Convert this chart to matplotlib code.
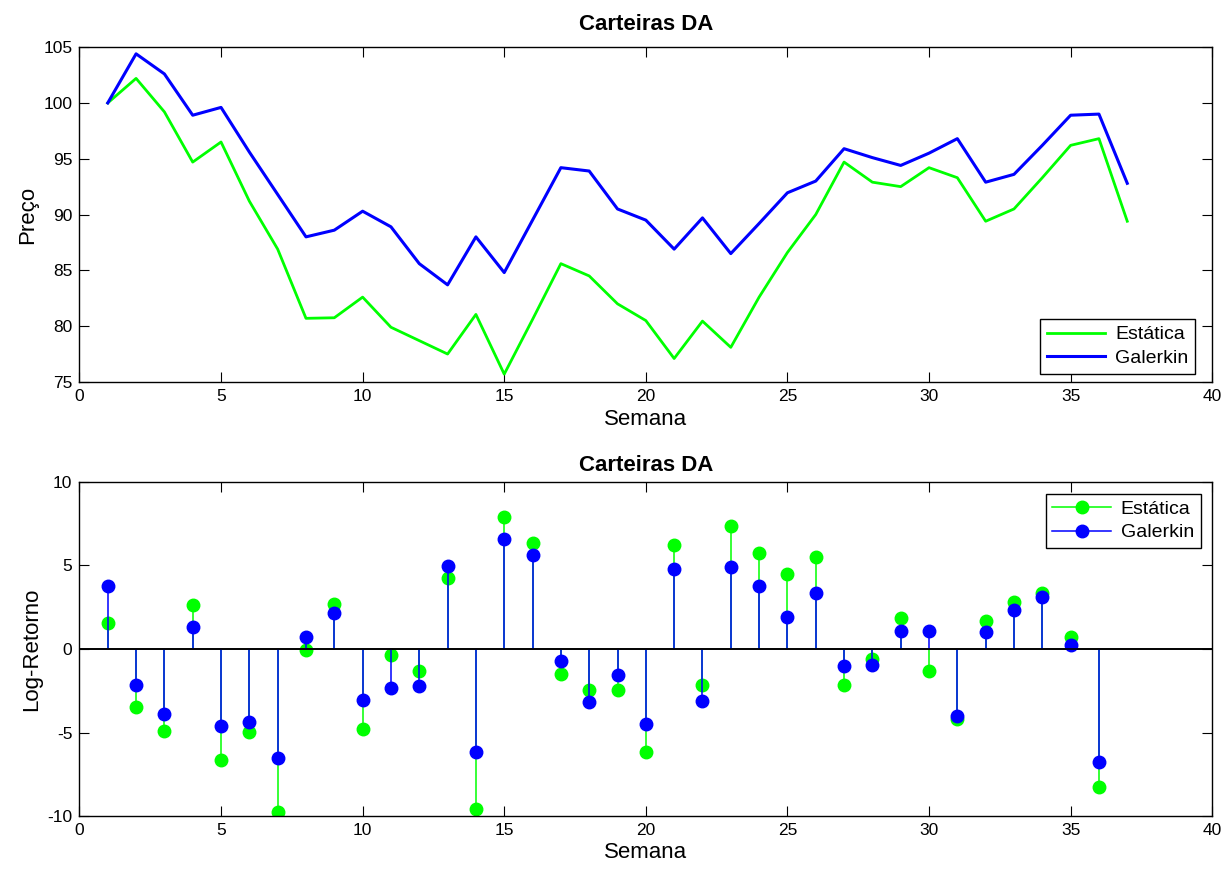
import matplotlib
matplotlib.use("Agg")
import matplotlib.pyplot as plt
from matplotlib.lines import Line2D
from matplotlib.legend_handler import HandlerLine2D
import numpy as np

plt.rcParams['font.family'] = ['Liberation Sans', 'DejaVu Sans']
plt.rcParams['axes.unicode_minus'] = False

semanas = np.arange(1, 38)
preco_estatica = [100, 102.2, 99.2, 94.7, 96.5, 91.2, 86.9, 80.7, 80.75, 82.6,
                  79.9, 78.7, 77.5, 81.05, 75.7, 80.6, 85.6, 84.5, 82.0, 80.5,
                  77.1, 80.45, 78.1, 82.6, 86.6, 90.0, 94.7, 92.9, 92.5, 94.2,
                  93.3, 89.4, 90.5, 93.3, 96.2, 96.8, 89.4]
preco_galerkin = [100, 104.4, 102.6, 98.9, 99.6, 95.6, 91.8, 88.0, 88.6, 90.3,
                  88.9, 85.6, 83.7, 88.0, 84.8, 89.5, 94.2, 93.9, 90.5, 89.5,
                  86.9, 89.7, 86.5, 89.2, 91.95, 93.0, 95.9, 95.1, 94.4, 95.5,
                  96.8, 92.9, 93.6, 96.2, 98.9, 99.0, 92.8]

semanas_ret = np.arange(1, 37)
ret_estatica = [1.55, -3.49, -4.88, 2.61, -6.61, -4.96, -9.76, -0.04, 2.71, -4.78,
                -0.34, -1.29, 4.24, -9.54, 7.89, 6.33, -1.49, -2.43, -2.43, -6.13,
                6.21, -2.16, 7.34, 5.77, 4.48, 5.52, -2.16, -0.6, 1.85, -1.29,
                -4.2, 1.65, 2.8, 3.33, 0.75, -8.27]
ret_galerkin = [3.80, -2.17, -3.88, 1.31, -4.58, -4.36, -6.51, 0.70, 2.15, -3.03,
                -2.33, -2.23, 4.94, -6.16, 6.57, 5.64, -0.70, -3.19, -1.57, -4.5,
                4.76, -3.12, 4.92, 3.79, 1.90, 3.37, -1.03, -0.97, 1.11, 1.11,
                -4.0, 1.01, 2.34, 3.13, 0.26, -6.73]

verde = (0, 1, 0)
azul = (0, 0, 1)


class MarcadorDireita(HandlerLine2D):
    # marker at the right end of the legend line, like MATLAB stem legends
    def get_xdata(self, legend, xdescent, ydescent, width, height, fontsize):
        xdata = np.array([-xdescent, -xdescent + width])
        return xdata, np.array([-xdescent + width * 0.9])


fig = plt.figure(figsize=(12.22, 8.73), dpi=100)
ax1 = fig.add_axes([0.065, 0.5625, 0.927, 0.3835])
ax2 = fig.add_axes([0.065, 0.065, 0.927, 0.383])

ax1.plot(semanas, preco_estatica, color=verde, lw=2, label='Estática')
ax1.plot(semanas, preco_galerkin, color=azul, lw=2.2, label='Galerkin')
ax1.set_xlim(0, 40)
ax1.set_ylim(75, 105)
ax1.set_title('Carteiras DA', fontsize=16, fontweight='bold', pad=12)
ax1.set_xlabel('Semana', fontsize=16, labelpad=4)
ax1.set_ylabel('Preço', fontsize=16, labelpad=4)
leg1 = ax1.legend(loc='lower right', fontsize=14, fancybox=False, framealpha=1,
                  handlelength=3.0, bbox_to_anchor=(0.985, 0.025),
                  borderaxespad=0, labelspacing=0.3, borderpad=0.35,
                  handletextpad=0.5)
leg1.get_frame().set_edgecolor('black')

m, s, b = ax2.stem(semanas_ret, ret_estatica, basefmt='k-')
plt.setp(s, color=verde, lw=1.1)
plt.setp(m, color=verde, markersize=9)
m2, s2, b2 = ax2.stem(semanas_ret, ret_galerkin, basefmt='k-')
plt.setp(s2, color=azul, lw=1.1)
plt.setp(m2, color=azul, markersize=9)
plt.setp([b, b2], lw=1.2)
b.set_xdata([0, 40])
b2.set_xdata([0, 40])
ax2.set_xlim(0, 40)
ax2.set_ylim(-10, 10)
ax2.set_yticks([-10, -5, 0, 5, 10])
ax2.set_title('Carteiras DA', fontsize=16, fontweight='bold', pad=8)
ax2.set_xlabel('Semana', fontsize=16, labelpad=3)
ax2.set_ylabel('Log-Retorno', fontsize=16, labelpad=4)
h_est = Line2D([], [], color=verde, lw=1.1, marker='o', markersize=9)
h_gal = Line2D([], [], color=azul, lw=1.1, marker='o', markersize=9)
leg2 = ax2.legend([h_est, h_gal], ['Estática', 'Galerkin'], loc='upper right',
                  fontsize=14, fancybox=False, framealpha=1, handlelength=3.0,
                  borderaxespad=0.6, labelspacing=0.3, borderpad=0.35,
                  handletextpad=0.5, numpoints=1,
                  handler_map={Line2D: MarcadorDireita()})
leg2.get_frame().set_edgecolor('black')

for ax in (ax1, ax2):
    ax.tick_params(direction='in', top=True, right=True, labelsize=12.5,
                   length=7, pad=5)
    for sp in ax.spines.values():
        sp.set_linewidth(1.0)

fig.savefig('out.png', dpi=100)
